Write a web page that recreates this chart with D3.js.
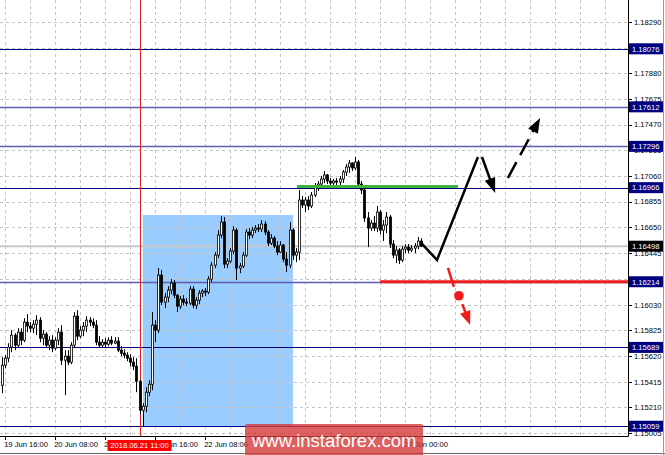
<!DOCTYPE html>
<html><head><meta charset="utf-8">
<script src="https://cdn.jsdelivr.net/npm/d3@7"></script>
<style>html,body{margin:0;padding:0;background:#fff;}svg{display:block;}</style>
</head><body>
<svg id="c" width="665" height="455"></svg>
<script>
// ---- data ----
const open  = [1.15387,1.15547,1.15603,1.15691,1.15787,1.15707,1.15811,1.15747,1.15891,1.15859,1.15843,1.15875,1.15907,1.15763,1.15795,1.15707,1.15747,1.15683,1.15747,1.15811,1.15587,1.15619,1.15571,1.15707,1.15939,1.15779,1.15827,1.15859,1.15907,1.15891,1.15867,1.15731,1.15707,1.15731,1.15715,1.15747,1.15723,1.15739,1.15667,1.15643,1.15627,1.15603,1.15571,1.15539,1.15419,1.15187,1.15219,1.15331,1.15395,1.15867,1.15827,1.16267,1.16051,1.16091,1.16147,1.16203,1.16107,1.16019,1.16075,1.16051,1.16043,1.16155,1.16027,1.16067,1.16123,1.16139,1.16131,1.16235,1.16347,1.16427,1.16587,1.16691,1.16355,1.16379,1.16459,1.16627,1.16323,1.16339,1.16427,1.16611,1.16587,1.16627,1.16643,1.16635,1.16675,1.16611,1.16523,1.16563,1.16499,1.16451,1.16507,1.16395,1.16347,1.16627,1.16427,1.16451,1.16867,1.16827,1.16867,1.16819,1.16907,1.16979,1.16995,1.17035,1.17067,1.17019,1.17003,1.17019,1.17011,1.17035,1.17091,1.17131,1.17163,1.17123,1.17171,1.16995,1.16947,1.16723,1.16643,1.16683,1.16643,1.16771,1.16627,1.16667,1.16731,1.16515,1.16427,1.16467,1.16387,1.16475,1.16491,1.16467,1.16483,1.16499,1.16539];
const high  = [1.15611,1.15627,1.15723,1.15827,1.15803,1.15843,1.15843,1.15923,1.15955,1.15891,1.15907,1.15947,1.15931,1.15827,1.15811,1.15779,1.15787,1.15771,1.15843,1.15867,1.15667,1.15667,1.15731,1.15971,1.15987,1.15859,1.15891,1.15939,1.15931,1.15923,1.15907,1.15779,1.15755,1.15763,1.15771,1.15779,1.15771,1.15771,1.15699,1.15675,1.15651,1.15635,1.15611,1.15603,1.15427,1.15243,1.15371,1.15427,1.15971,1.15907,1.16323,1.16307,1.16123,1.16179,1.16235,1.16227,1.16115,1.16099,1.16107,1.16083,1.16179,1.16179,1.16091,1.16147,1.16155,1.16163,1.16259,1.16371,1.16451,1.16627,1.16739,1.16731,1.16403,1.16483,1.16659,1.16643,1.16363,1.16451,1.16635,1.16643,1.16651,1.16667,1.16675,1.16707,1.16699,1.16627,1.16595,1.16579,1.16539,1.16539,1.16515,1.16451,1.16691,1.16643,1.16483,1.16947,1.16899,1.16891,1.16899,1.16931,1.17003,1.17019,1.17059,1.17099,1.17075,1.17043,1.17035,1.17043,1.17059,1.17107,1.17155,1.17187,1.17171,1.17211,1.17187,1.17019,1.16963,1.16771,1.16707,1.16739,1.16819,1.16787,1.16707,1.16771,1.16747,1.16547,1.16499,1.16483,1.16499,1.16515,1.16515,1.16507,1.16523,1.16571,1.16563];
const low   = [1.15323,1.15523,1.15571,1.15651,1.15667,1.15691,1.15707,1.15731,1.15811,1.15811,1.15803,1.15787,1.15731,1.15707,1.15683,1.15667,1.15651,1.15667,1.15707,1.15547,1.15307,1.15547,1.15555,1.15683,1.15747,1.15763,1.15779,1.15811,1.15859,1.15843,1.15707,1.15683,1.15683,1.15691,1.15699,1.15707,1.15715,1.15651,1.15619,1.15603,1.15579,1.15539,1.15507,1.15331,1.15155,1.15059,1.15171,1.15299,1.15347,1.15731,1.15803,1.16027,1.16003,1.16051,1.16115,1.16083,1.15971,1.15995,1.16027,1.16019,1.16027,1.16003,1.15995,1.16035,1.16091,1.16099,1.16115,1.16211,1.16323,1.16403,1.16563,1.16323,1.16323,1.16363,1.16435,1.16227,1.16283,1.16323,1.16411,1.16555,1.16563,1.16603,1.16611,1.16611,1.16587,1.16499,1.16507,1.16483,1.16427,1.16443,1.16371,1.16291,1.16323,1.16387,1.16371,1.16387,1.16803,1.16771,1.16787,1.16803,1.16891,1.16939,1.16963,1.17003,1.16995,1.16987,1.16979,1.16987,1.16979,1.17003,1.17059,1.17083,1.17099,1.17107,1.16963,1.16915,1.16691,1.16491,1.16619,1.16619,1.16611,1.16595,1.16539,1.16603,1.16483,1.16403,1.16363,1.16355,1.16371,1.16443,1.16443,1.16451,1.16443,1.16475,1.16491];
const close = [1.15547,1.15603,1.15691,1.15787,1.15707,1.15811,1.15747,1.15891,1.15859,1.15843,1.15875,1.15907,1.15763,1.15795,1.15707,1.15747,1.15683,1.15747,1.15811,1.15587,1.15619,1.15571,1.15707,1.15939,1.15779,1.15827,1.15859,1.15907,1.15891,1.15867,1.15731,1.15707,1.15731,1.15715,1.15747,1.15723,1.15739,1.15667,1.15643,1.15627,1.15603,1.15571,1.15539,1.15419,1.15187,1.15219,1.15331,1.15395,1.15867,1.15827,1.16267,1.16051,1.16091,1.16147,1.16203,1.16107,1.16019,1.16075,1.16051,1.16043,1.16155,1.16027,1.16067,1.16123,1.16139,1.16131,1.16235,1.16347,1.16427,1.16587,1.16691,1.16355,1.16379,1.16459,1.16627,1.16323,1.16339,1.16427,1.16611,1.16587,1.16627,1.16643,1.16635,1.16675,1.16611,1.16523,1.16563,1.16499,1.16451,1.16507,1.16395,1.16347,1.16627,1.16427,1.16451,1.16867,1.16827,1.16867,1.16819,1.16907,1.16979,1.16995,1.17035,1.17067,1.17019,1.17003,1.17019,1.17011,1.17035,1.17091,1.17131,1.17163,1.17123,1.17171,1.16995,1.16947,1.16723,1.16643,1.16683,1.16643,1.16771,1.16627,1.16667,1.16731,1.16515,1.16427,1.16467,1.16387,1.16475,1.16491,1.16467,1.16483,1.16499,1.16539,1.16498];

const gridPrices = [1.18290,1.18085,1.17880,1.17675,1.17470,1.17265,1.17060,1.16855,1.16650,1.16445,1.16235,1.16030,1.15825,1.15620,1.15415,1.15210,1.15005];
const priceTickLabels = [1.18290,1.17880,1.17675,1.17470,1.17265,1.17060,1.16855,1.16650,1.16445,1.16030,1.15825,1.15620,1.15415,1.15210,1.15005];
const timeLabels = ["19 Jun 16:00","20 Jun 08:00","21 Jun 00:00","21 Jun 16:00","22 Jun 08:00","27 Jun 00:00"];
const timeLabelBars = [1,17,33,49,65,129];

const levels      = [1.18076,1.17612,1.17296,1.16966,1.16214,1.15689,1.15059];
const levelStrong = [false,true,true,false,true,false,false];
const currentPrice = 1.16498;
const markerBar = 44, markerText = "2018.06.21 11:00";

const zoneBars = [45.1, 93.1], zonePrices = [1.15059, 1.16747];
const greenBars = [94.4, 145.9], greenPrice = 1.16976;
const redBars = [121, 201], redPrice = 1.16214;

const pathV     = [[134.1,1.16524],[139.2,1.16388],[152.3,1.17211]];
const arrowDown = [[153.6,1.17211],[157.8,1.16923]];
const arrowUp   = [[161.9,1.17043],[172.2,1.17523]];
const redSeg    = [[142.7,1.16324],[144.6,1.16172]];
const redDot    = [146.2,1.16102];
const redArrow  = [[147.3,1.16035],[149.8,1.15868]];

// ---- scales ----
const W = 665, H = 455, plotR = 628, plotB = 436;
const x = d3.scaleLinear().domain([0, 200]).range([2, 627]);
const y = d3.scaleLinear().domain([1.14981, 1.18466]).range([plotB, 0]);
const svg = d3.select("#c");
const font = "'Liberation Sans', Arial, sans-serif";

svg.append("defs").append("clipPath").attr("id","pc").append("rect")
  .attr("x",0).attr("y",0).attr("width",plotR).attr("height",plotB);
const plot = svg.append("g").attr("clip-path","url(#pc)");

// zone rect
plot.append("rect")
  .attr("x", x(zoneBars[0])).attr("width", x(zoneBars[1]) - x(zoneBars[0]))
  .attr("y", y(zonePrices[1])).attr("height", y(zonePrices[0]) - y(zonePrices[1]))
  .attr("fill", "#99ccff");

// grid
const gridX = d3.range(1, 200, 8);
plot.selectAll("line.gx").data(gridX).join("line")
  .attr("x1", d => Math.round(x(d)) + 0.5).attr("x2", d => Math.round(x(d)) + 0.5)
  .attr("y1", 0).attr("y2", plotB)
  .attr("stroke", "#c4c4c4").attr("stroke-dasharray", "3,3");
plot.selectAll("line.gy").data(gridPrices).join("line")
  .attr("x1", 0).attr("x2", plotR)
  .attr("y1", d => Math.round(y(d)) + 0.5).attr("y2", d => Math.round(y(d)) + 0.5)
  .attr("stroke", "#c4c4c4").attr("stroke-dasharray", "3,3");

// current price line
plot.append("line").attr("x1",0).attr("x2",plotR)
  .attr("y1", y(currentPrice)).attr("y2", y(currentPrice))
  .attr("stroke","#c8c8c8").attr("stroke-width",2);

// levels
plot.selectAll("line.lv").data(levels).join("line")
  .attr("x1",0).attr("x2",plotR)
  .attr("y1", d => Math.round(y(d)) + 0.5).attr("y2", d => Math.round(y(d)) + 0.5)
  .attr("stroke", (d,i) => levelStrong[i] ? "#5c5cb4" : "#000080")
  .attr("stroke-width", (d,i) => levelStrong[i] ? 1.6 : 1);

// marker vertical line
plot.append("line").attr("x1", Math.round(x(markerBar))+0.5).attr("x2", Math.round(x(markerBar))+0.5)
  .attr("y1",0).attr("y2",plotB).attr("stroke","#e02020").attr("stroke-width",1);

// candles
const bars = open.map((o,i) => ({i, o, h: high[i], l: low[i], c: close[i]}));
const cg = plot.append("g");
cg.selectAll("line.w").data(bars).join("line")
  .attr("x1", d => Math.round(x(d.i)) + 0.5).attr("x2", d => Math.round(x(d.i)) + 0.5)
  .attr("y1", d => y(d.h)).attr("y2", d => y(d.l))
  .attr("stroke", "#000").attr("stroke-width", 1);
cg.selectAll("rect.b").data(bars).join("rect")
  .attr("x", d => Math.round(x(d.i)) - 0.5).attr("width", 2)
  .attr("y", d => y(Math.max(d.o, d.c))).attr("height", d => Math.max(1, Math.abs(y(d.o) - y(d.c))))
  .attr("fill", d => d.c >= d.o ? "#ffffff" : "#000000")
  .attr("stroke", "#000").attr("stroke-width", 0.8);

// green & red lines
plot.append("line").attr("x1", x(greenBars[0])).attr("x2", x(greenBars[1]))
  .attr("y1", y(greenPrice)).attr("y2", y(greenPrice))
  .attr("stroke","#3cb440").attr("stroke-width",3);
plot.append("line").attr("x1", x(redBars[0])).attr("x2", x(redBars[1]))
  .attr("y1", y(redPrice)).attr("y2", y(redPrice))
  .attr("stroke","#f01c1c").attr("stroke-width",3);

// arrows
const ln = d3.line().x(d => x(d[0])).y(d => y(d[1]));
function head(g, p0, p1, color, len, hw) {
  const x0 = x(p0[0]), y0 = y(p0[1]), x1 = x(p1[0]), y1 = y(p1[1]);
  const dx = x1 - x0, dy = y1 - y0, L = Math.hypot(dx, dy), ux = dx / L, uy = dy / L;
  const bx = x1 - ux * len, by = y1 - uy * len;
  g.append("path").attr("d", `M${x1},${y1}L${bx - uy*hw},${by + ux*hw}L${bx + uy*hw},${by - ux*hw}Z`).attr("fill", color);
}
function shaft(p0, p1, len) {
  const x0 = x(p0[0]), y0 = y(p0[1]), x1 = x(p1[0]), y1 = y(p1[1]);
  const dx = x1 - x0, dy = y1 - y0, L = Math.hypot(dx, dy);
  return [[x0, y0], [x1 - dx / L * (len - 2), y1 - dy / L * (len - 2)]];
}
const ag = plot.append("g");
ag.append("path").attr("d", ln(pathV)).attr("fill","none").attr("stroke","#000").attr("stroke-width",2.5).attr("stroke-linejoin","miter");
let s = shaft(arrowDown[0], arrowDown[1], 15);
ag.append("line").attr("x1",s[0][0]).attr("y1",s[0][1]).attr("x2",s[1][0]).attr("y2",s[1][1]).attr("stroke","#000").attr("stroke-width",2.5);
head(ag, arrowDown[0], arrowDown[1], "#000", 15, 5.5);
s = shaft(arrowUp[0], arrowUp[1], 15);
ag.append("line").attr("x1",s[0][0]).attr("y1",s[0][1]).attr("x2",s[1][0]).attr("y2",s[1][1]).attr("stroke","#000").attr("stroke-width",2.5).attr("stroke-dasharray","18,8");
head(ag, arrowUp[0], arrowUp[1], "#000", 15, 5.5);
ag.append("path").attr("d", ln(redSeg)).attr("stroke","#f01c1c").attr("stroke-width",2.5).attr("fill","none");
ag.append("circle").attr("cx", x(redDot[0])).attr("cy", y(redDot[1])).attr("r", 4.8).attr("fill","#f01c1c");
s = shaft(redArrow[0], redArrow[1], 14);
ag.append("line").attr("x1",s[0][0]).attr("y1",s[0][1]).attr("x2",s[1][0]).attr("y2",s[1][1]).attr("stroke","#f01c1c").attr("stroke-width",2.5);
head(ag, redArrow[0], redArrow[1], "#f01c1c", 14, 5.5);

// axes frame
svg.append("line").attr("x1",0).attr("x2",plotR+0.5).attr("y1",plotB+0.5).attr("y2",plotB+0.5).attr("stroke","#000");
svg.append("line").attr("x1",plotR+0.5).attr("x2",plotR+0.5).attr("y1",0).attr("y2",plotB+0.5).attr("stroke","#000");
svg.append("line").attr("x1",0).attr("x2",W).attr("y1",453.5).attr("y2",453.5).attr("stroke","#666");
svg.append("line").attr("x1",663.5).attr("x2",663.5).attr("y1",0).attr("y2",H).attr("stroke","#999");

// price axis
const pa = svg.append("g");
pa.selectAll("line").data(gridPrices).join("line")
  .attr("x1", plotR).attr("x2", plotR + 4)
  .attr("y1", d => Math.round(y(d)) + 0.5).attr("y2", d => Math.round(y(d)) + 0.5).attr("stroke","#000");
pa.selectAll("text").data(priceTickLabels).join("text")
  .attr("x", 634).attr("y", d => y(d) + 2.8)
  .attr("font-family", font).attr("font-size", 7.6).attr("fill","#000")
  .text(d => d3.format(".5f")(d));

// level labels
const lg = svg.append("g");
const lvlAll = levels.map(v => ({v, bg: "#000080"})).concat([{v: currentPrice, bg: "#000"}]);
lg.selectAll("rect").data(lvlAll).join("rect")
  .attr("x", 629).attr("width", 34).attr("y", d => y(d.v) - 5.5).attr("height", 11).attr("fill", d => d.bg);
lg.selectAll("text").data(lvlAll).join("text")
  .attr("x", 632).attr("y", d => y(d.v) + 2.8)
  .attr("font-family", font).attr("font-size", 7.6).attr("fill","#fff")
  .text(d => d3.format(".5f")(d.v));

// time axis
const ta = svg.append("g");
ta.selectAll("line").data(d3.range(1, 130, 16)).join("line")
  .attr("x1", d => Math.round(x(d)) + 0.5).attr("x2", d => Math.round(x(d)) + 0.5)
  .attr("y1", plotB).attr("y2", plotB + 4).attr("stroke","#000");
ta.selectAll("text").data(timeLabels).join("text")
  .attr("x", (d,i) => x(timeLabelBars[i]) - 1).attr("y", 447)
  .attr("font-family", font).attr("font-size", 7.6).attr("fill","#000")
  .text(d => d);

// marker label
const mx = x(markerBar);
svg.append("rect").attr("x", mx - 32).attr("y", 440).attr("width", 64).attr("height", 11).attr("fill","#ff0000");
svg.append("text").attr("x", mx).attr("y", 448.3).attr("text-anchor","middle")
  .attr("font-family", font).attr("font-size", 7.6).attr("fill","#fff").text(markerText);

// watermark
svg.append("rect").attr("x",245).attr("y",424).attr("width",178).attr("height",33).attr("rx",2)
  .attr("fill","#d43a3a").attr("opacity",0.8);
svg.append("text").attr("x",252).attr("y",447).attr("font-family",font).attr("font-size",18.5)
  .attr("fill","#fff").text("www.instaforex.com");
</script>
</body></html>
